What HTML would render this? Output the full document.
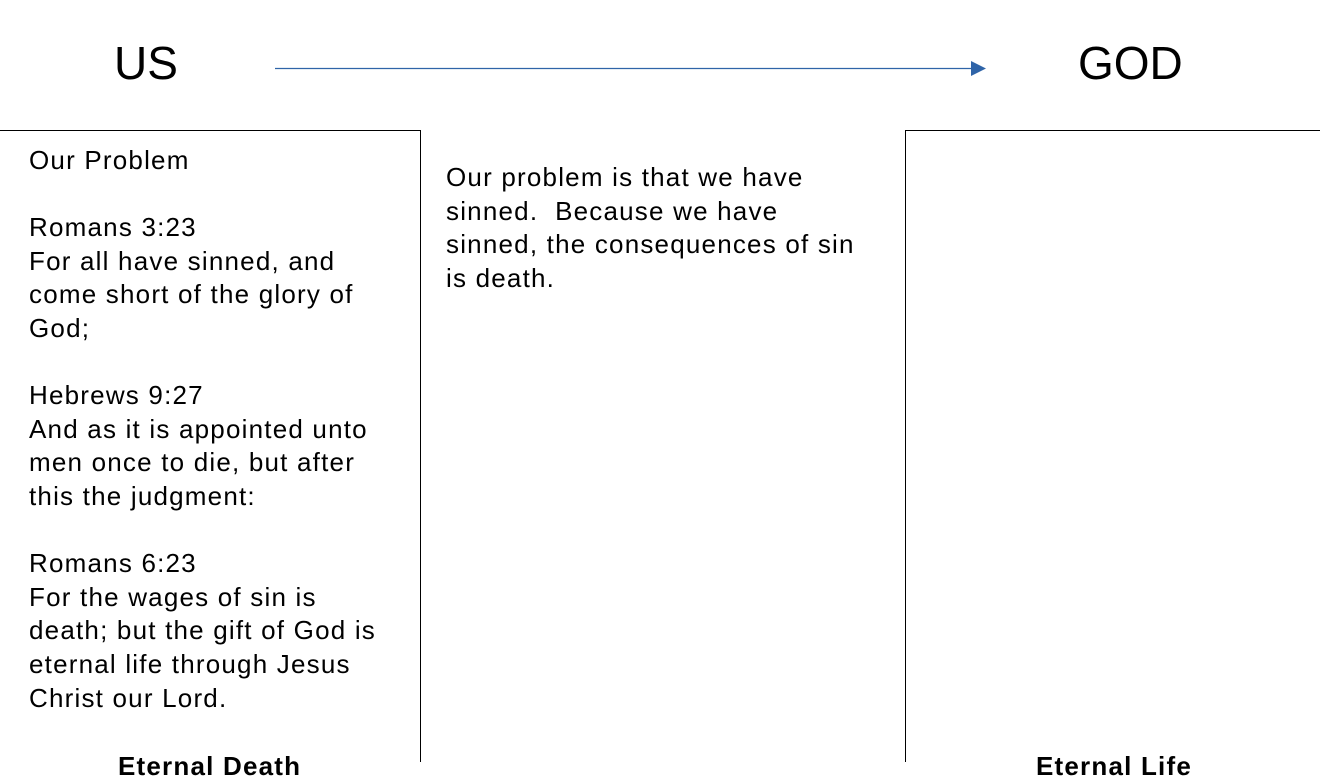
<!DOCTYPE html>
<html><head><meta charset="utf-8"><style>
body{margin:0;width:1320px;height:780px;overflow:hidden;background:#fff;font-family:"Liberation Sans",sans-serif;color:#000;position:relative}
.a{position:absolute;white-space:nowrap}
.t{font-size:26px;line-height:33.6px;letter-spacing:1.2px}
.ln{position:absolute;background:#000}
</style></head><body>
<div class="a" style="left:114px;top:36px;font-size:46px;line-height:54px">US</div>
<div class="a" style="left:1078px;top:36px;font-size:46px;line-height:54px">GOD</div>
<svg class="a" style="left:0;top:0" width="1320" height="130">
<line x1="275" y1="68.5" x2="972" y2="68.5" stroke="#2f64a8" stroke-width="1.3"/>
<polygon points="971,61 986,68.5 971,76" fill="#2f64a8"/>
</svg>
<div class="ln" style="left:0;top:130px;width:421px;height:1px"></div>
<div class="ln" style="left:420px;top:130px;width:1px;height:632px"></div>
<div class="ln" style="left:905px;top:130px;width:415px;height:1px"></div>
<div class="ln" style="left:905px;top:130px;width:1px;height:632px"></div>
<div class="a t" style="left:29px;top:144px">Our Problem<br><br>Romans 3:23<br>For all have sinned, and<br>come short of the glory of<br>God;<br><br>Hebrews 9:27<br>And as it is appointed unto<br>men once to die, but after<br>this the judgment:<br><br>Romans 6:23<br>For the wages of sin is<br>death; but the gift of God is<br>eternal life through Jesus<br>Christ our Lord.</div>
<div class="a t" style="left:446px;top:161px">Our problem is that we have<br>sinned.&nbsp; Because we have<br>sinned, the consequences of sin<br>is death.</div>
<div class="a" style="left:118px;top:750px;font-size:26px;font-weight:bold;line-height:32px;letter-spacing:1.2px">Eternal Death</div>
<div class="a" style="left:1036px;top:750px;font-size:26px;font-weight:bold;line-height:32px;letter-spacing:1.2px">Eternal Life</div>
</body></html>
